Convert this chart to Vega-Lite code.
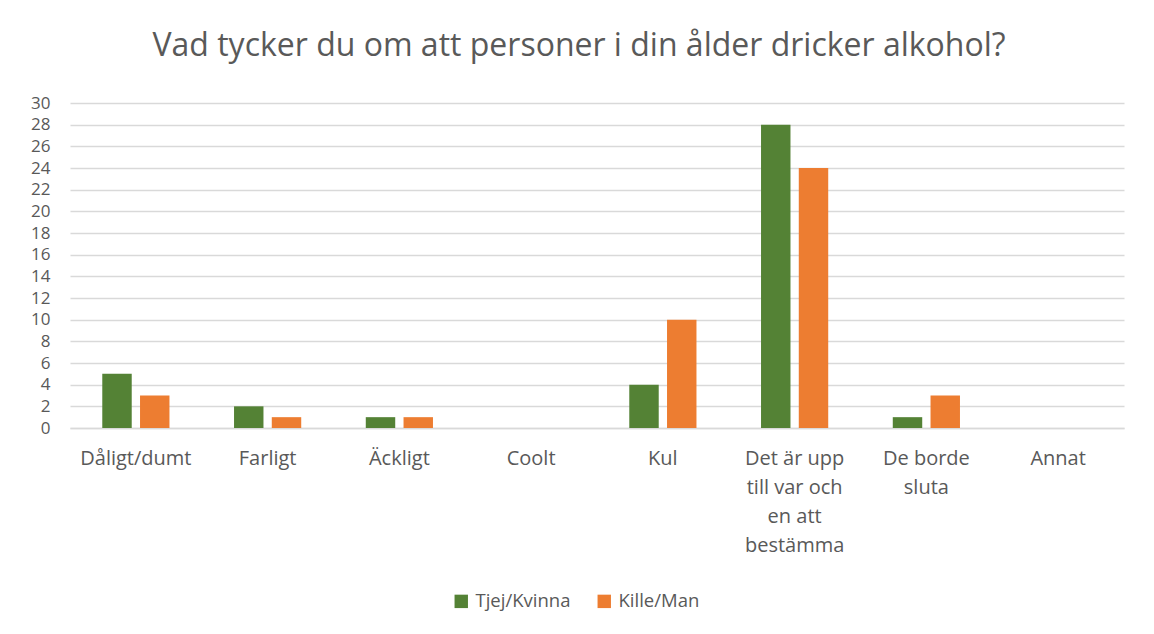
{
  "$schema": "https://vega.github.io/schema/vega-lite/v6.json",
  "width": 1054,
  "height": 325,
  "autosize": "none",
  "padding": {"left": 70, "top": 103, "right": 30, "bottom": 206},
  "background": "white",
  "config": {"font": "Open Sans", "view": {"stroke": null}},
  "title": {
    "text": "Vad tycker du om att personer i din ålder dricker alkohol?",
    "fontSize": 32,
    "font": "Open Sans",
    "fontWeight": "normal",
    "color": "#595959",
    "anchor": "middle",
    "dx": -18,
    "offset": 31
  },
  "data": {
    "values": [
      {"kategori": "Dåligt/dumt", "kon": "Tjej/Kvinna", "antal": 5},
      {"kategori": "Dåligt/dumt", "kon": "Kille/Man", "antal": 3},
      {"kategori": "Farligt", "kon": "Tjej/Kvinna", "antal": 2},
      {"kategori": "Farligt", "kon": "Kille/Man", "antal": 1},
      {"kategori": "Äckligt", "kon": "Tjej/Kvinna", "antal": 1},
      {"kategori": "Äckligt", "kon": "Kille/Man", "antal": 1},
      {"kategori": "Coolt", "kon": "Tjej/Kvinna", "antal": 0},
      {"kategori": "Coolt", "kon": "Kille/Man", "antal": 0},
      {"kategori": "Kul", "kon": "Tjej/Kvinna", "antal": 4},
      {"kategori": "Kul", "kon": "Kille/Man", "antal": 10},
      {"kategori": "Det är upp till var och en att bestämma", "kon": "Tjej/Kvinna", "antal": 28},
      {"kategori": "Det är upp till var och en att bestämma", "kon": "Kille/Man", "antal": 24},
      {"kategori": "De borde sluta", "kon": "Tjej/Kvinna", "antal": 1},
      {"kategori": "De borde sluta", "kon": "Kille/Man", "antal": 3},
      {"kategori": "Annat", "kon": "Tjej/Kvinna", "antal": 0},
      {"kategori": "Annat", "kon": "Kille/Man", "antal": 0}
    ]
  },
  "mark": {"type": "bar"},
  "encoding": {
    "x": {
      "field": "kategori",
      "type": "nominal",
      "sort": null,
      "scale": {"paddingInner": 0.49, "paddingOuter": 0.245},
      "axis": {
        "title": null,
        "labelAngle": 0,
        "labelFontSize": 20,
        "labelColor": "#595959",
        "labelPadding": 20,
        "labelLineHeight": 29,
        "labelBaseline": "top",
        "ticks": false,
        "domainColor": "#d9d9d9",
        "domainWidth": 1.5,
        "labelLimit": 0,
        "labelExpr": "datum.value == 'Det är upp till var och en att bestämma' ? ['Det är upp', 'till var och', 'en att', 'bestämma'] : datum.value == 'De borde sluta' ? ['De borde', 'sluta'] : datum.value"
      }
    },
    "xOffset": {
      "field": "kon",
      "type": "nominal",
      "sort": ["Tjej/Kvinna", "Kille/Man"],
      "scale": {"paddingInner": 0.22}
    },
    "y": {
      "field": "antal",
      "type": "quantitative",
      "scale": {"domain": [0, 30]},
      "axis": {
        "title": null,
        "values": [0, 2, 4, 6, 8, 10, 12, 14, 16, 18, 20, 22, 24, 26, 28, 30],
        "labelFontSize": 17,
        "labelColor": "#595959",
        "labelPadding": 20,
        "ticks": false,
        "domain": false,
        "gridColor": "#d9d9d9",
        "gridWidth": 1.5
      }
    },
    "color": {
      "field": "kon",
      "type": "nominal",
      "sort": ["Tjej/Kvinna", "Kille/Man"],
      "scale": {"domain": ["Tjej/Kvinna", "Kille/Man"], "range": ["#548235", "#ED7D31"]},
      "legend": {
        "title": null,
        "orient": "none",
        "legendX": 382,
        "legendY": 489,
        "direction": "horizontal",
        "symbolType": "square",
        "symbolSize": 180,
        "symbolStrokeWidth": 0,
        "labelFontSize": 18.5,
        "labelColor": "#595959",
        "labelOffset": 5,
        "columnPadding": 24
      }
    }
  }
}
